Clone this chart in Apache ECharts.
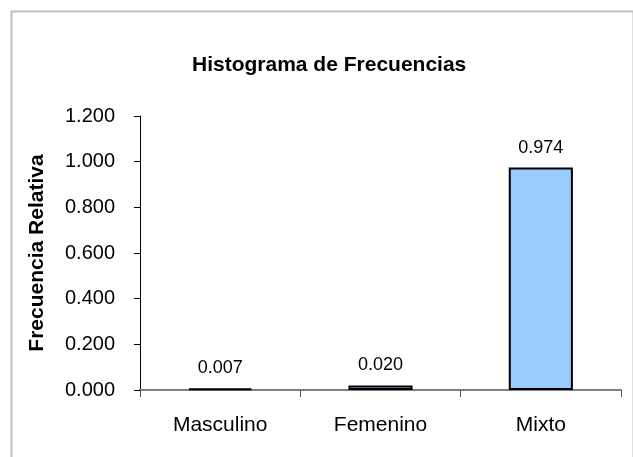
<!DOCTYPE html>
<html>
<head>
<meta charset="utf-8">
<script src="https://cdn.jsdelivr.net/npm/echarts@6/dist/echarts.min.js"></script>
<style>
  html, body { margin: 0; padding: 0; background: #fff; }
  #main { width: 633px; height: 457px; }
</style>
</head>
<body>
<div id="main"></div>
<script>
const categories = ["Masculino", "Femenino", "Mixto"];
const frecuencia = [0.007, 0.020, 0.974];
const yTicks = [0, 0.2, 0.4, 0.6, 0.8, 1.0, 1.2];

const chart = echarts.init(document.getElementById("main"));
chart.setOption({
  animation: false,
  textStyle: { fontFamily: "Liberation Sans, Arial, sans-serif" },
  title: {
    text: "Histograma de Frecuencias",
    left: 187,
    top: 50,
    textStyle: { fontSize: 21, fontWeight: "bold", color: "#000" },
  },
  graphic: [
    {
      type: "rect",
      left: 9,
      top: 9,
      shape: { width: 622, height: 470 },
      style: { fill: "none", stroke: "#c0c0c0", lineWidth: 2 },
      silent: true,
    },
  ],
  grid: {
    left: 140,
    right: 12,
    top: 116,
    bottom: 67,
  },
  xAxis: {
    type: "category",
    data: categories,
    boundaryGap: true,
    axisLine: { lineStyle: { color: "#808080", width: 2 } },
    axisTick: { show: true, length: 7, lineStyle: { color: "#555" } },
    axisLabel: { color: "#000", fontSize: 21, margin: 25 },
  },
  yAxis: {
    type: "value",
    min: 0,
    max: yTicks[yTicks.length - 1],
    interval: 0.2,
    name: "Frecuencia Relativa",
    nameLocation: "middle",
    nameGap: 92,
    nameTextStyle: { fontSize: 21, fontWeight: "bold", color: "#000" },
    splitLine: { show: false },
    axisLine: { show: true, lineStyle: { color: "#000", width: 1 } },
    axisTick: { show: true, length: 6, lineStyle: { color: "#000" } },
    axisLabel: {
      color: "#000",
      fontSize: 20,
      margin: 25,
      formatter: (v) => v.toFixed(3),
    },
  },
  series: [
    {
      type: "bar",
      data: frecuencia,
      barWidth: "40%",
      itemStyle: { color: "#99ccff", borderColor: "#000", borderWidth: 2 },
      label: {
        show: true,
        position: "top",
        distance: 11,
        color: "#000",
        fontSize: 18,
        formatter: (p) => p.value.toFixed(3),
      },
    },
  ],
});
</script>
</body>
</html>
